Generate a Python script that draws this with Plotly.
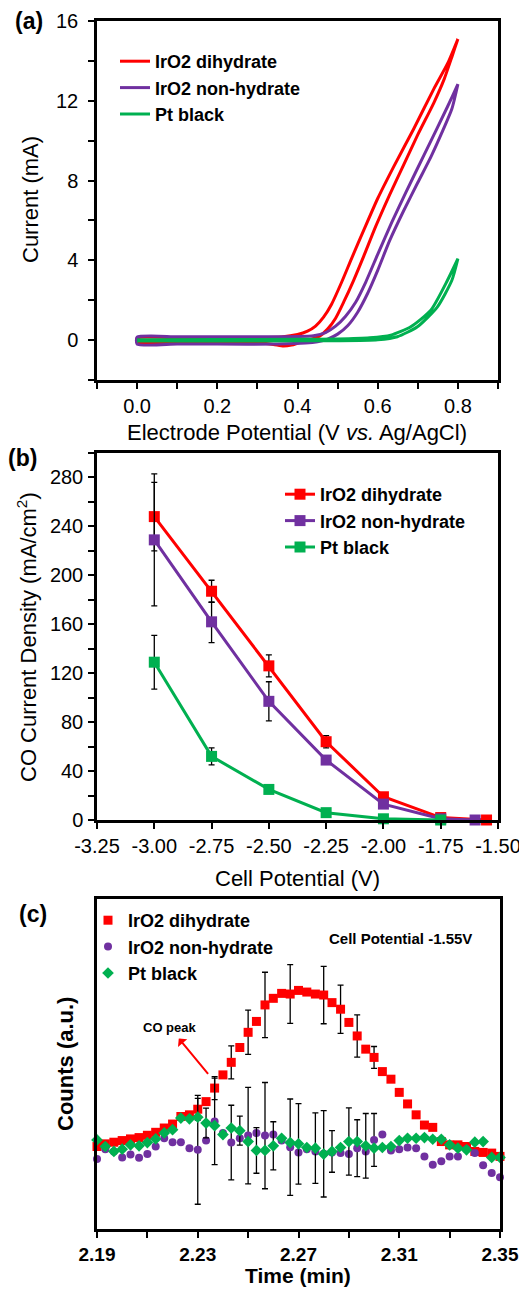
import plotly.graph_objects as go

FONT = "Liberation Sans, Arial, sans-serif"
RED, PURPLE, GREEN = "#FF0000", "#7030A0", "#00B050"

# ---------------- Panel (a): cyclic voltammograms ----------------
names = ["IrO2 dihydrate", "IrO2 non-hydrate", "Pt black"]

red_E_fwd = [0.00, 0.10, 0.20, 0.30, 0.36, 0.40, 0.425, 0.445, 0.465, 0.485, 0.51, 0.535, 0.565, 0.60, 0.64, 0.69, 0.74, 0.775, 0.80]
red_I_fwd = [0.10, 0.12, 0.12, 0.13, 0.16, 0.28, 0.45, 0.70, 1.15, 1.80, 2.90, 4.10, 5.50, 7.10, 8.70, 10.60, 12.60, 13.90, 15.10]
red_E_rev = [0.80, 0.785, 0.766, 0.74, 0.70, 0.665, 0.63, 0.595, 0.565, 0.54, 0.515, 0.495, 0.475, 0.455, 0.43, 0.405, 0.385, 0.365, 0.34, 0.30, 0.20, 0.10, 0.00, 0.00]
red_I_rev = [15.10, 14.20, 13.10, 11.90, 10.30, 8.80, 7.30, 5.70, 4.20, 3.00, 1.90, 1.10, 0.55, 0.20, 0.02, -0.12, -0.25, -0.30, -0.22, -0.13, -0.12, -0.12, -0.12, 0.10]

pur_E_fwd = [0.00, 0.10, 0.20, 0.30, 0.40, 0.44, 0.47, 0.495, 0.52, 0.545, 0.57, 0.60, 0.635, 0.67, 0.716, 0.774, 0.80]
pur_I_fwd = [0.15, 0.17, 0.17, 0.17, 0.18, 0.22, 0.38, 0.70, 1.20, 1.90, 2.90, 4.30, 5.90, 7.40, 9.30, 11.70, 12.83]
pur_E_rev = [0.80, 0.785, 0.76, 0.733, 0.70, 0.665, 0.63, 0.60, 0.575, 0.55, 0.525, 0.50, 0.475, 0.45, 0.42, 0.35, 0.20, 0.10, 0.00, 0.00]
pur_I_rev = [12.83, 11.60, 10.40, 9.20, 7.90, 6.50, 5.00, 3.50, 2.35, 1.40, 0.72, 0.30, 0.05, -0.08, -0.15, -0.20, -0.20, -0.20, -0.20, 0.15]

pt_E_fwd = [0.00, 0.20, 0.40, 0.50, 0.58, 0.6325, 0.6825, 0.7325, 0.774, 0.80]
pt_I_fwd = [0.02, 0.03, 0.04, 0.06, 0.12, 0.25, 0.67, 1.50, 3.00, 4.08]
pt_E_rev = [0.80, 0.785, 0.749, 0.699, 0.649, 0.60, 0.50, 0.30, 0.00]
pt_I_rev = [4.08, 3.00, 1.67, 0.67, 0.17, 0.02, -0.03, -0.04, -0.04]

# ---------------- Panel (b): CO current density ----------------
b_x_red = [-3.00, -2.75, -2.50, -2.25, -2.00, -1.75, -1.55]
b_y_red = [248, 187, 126, 64, 19, 2, 0]
b_ep_red = [35, 9, 9, 5, None, None, None]
b_em_red = [28, 9, 9, 5, None, None, None]
b_x_pur = [-3.00, -2.75, -2.50, -2.25, -2.00, -1.75, -1.60]
b_y_pur = [229, 162, 97, 49, 13, 1, 0]
b_ep_pur = [47, 16, 16, None, None, None, None]
b_em_pur = [54, 17, 16, None, None, None, None]
b_x_pt = [-3.00, -2.75, -2.50, -2.25, -2.00, -1.75]
b_y_pt = [129, 52, 25, 6, 1, 0]
b_e_pt = [22, 7, None, None, None, None]
b_tick_vals = [-3.25, -3.00, -2.75, -2.50, -2.25, -2.00, -1.75, -1.50]
b_tick_text = ["-3.25", "-3.00", "-2.75", "-2.50", "-2.25", "-2.00", "-1.75", "-1.50"]

# ---------------- Panel (c): GC counts vs time ----------------
c_time = [2.1900, 2.1933, 2.1967, 2.2000, 2.2033, 2.2067, 2.2100, 2.2133, 2.2167, 2.2200,
          2.2233, 2.2267, 2.2300, 2.2333, 2.2367, 2.2400, 2.2433, 2.2467, 2.2500, 2.2533,
          2.2567, 2.2600, 2.2633, 2.2667, 2.2700, 2.2733, 2.2767, 2.2800, 2.2833, 2.2867,
          2.2900, 2.2933, 2.2967, 2.3000, 2.3033, 2.3067, 2.3100, 2.3133, 2.3167, 2.3200,
          2.3233, 2.3267, 2.3300, 2.3333, 2.3367, 2.3400, 2.3433, 2.3467, 2.3500]
c_red = [25.0, 25.8, 26.3, 26.8, 27.3, 27.7, 28.4, 29.3, 30.6, 31.8,
         34.1, 34.6, 36.3, 38.6, 42.7, 46.7, 50.5, 55.0, 59.6, 62.9,
         67.9, 69.9, 71.4, 71.2, 72.3, 71.8, 71.2, 70.9, 68.6, 66.6,
         62.6, 58.5, 54.5, 52.0, 47.7, 45.4, 41.4, 37.9, 34.6, 31.5,
         30.8, 26.5, 25.5, 25.5, 25.0, 23.5, 23.2, 23.0, 22.0]
c_pur = [21.2, 24.2, 23.5, 21.7, 22.6, 21.6, 22.7, 25.0, 27.5, 26.3,
         26.3, 24.5, 24.0, 26.8, 32.6, 29.1, 26.2, 27.5, 28.3, 29.1,
         28.3, 28.6, 26.8, 24.8, 23.2, 24.2, 23.5, 22.8, 23.2, 23.0,
         22.7, 24.5, 23.5, 27.0, 28.6, 23.8, 24.2, 24.7, 24.5, 22.0,
         19.5, 20.5, 22.0, 22.0, 24.2, 23.0, 19.3, 17.0, 15.7]
c_pt = [27.0, 25.0, 23.5, 24.2, 25.5, 25.2, 26.2, 27.3, 29.1, 30.1,
        33.6, 33.4, 33.9, 32.1, 31.3, 28.6, 30.6, 29.8, 26.5, 23.8,
        23.8, 25.2, 27.5, 26.2, 25.8, 24.7, 24.5, 22.7, 23.5, 24.7,
        26.5, 26.5, 25.2, 24.5, 24.7, 25.0, 26.8, 27.5, 27.5, 27.7,
        27.2, 27.2, 25.5, 24.5, 24.0, 26.3, 26.5, 21.7, 21.7]
N = None
c_err_red = [N, N, N, N, N, N, N, N, N, N, N, N, 3.3, N, 3.5, N, 5.0, N, 6.7, N,
             9.9, N, N, 8.9, N, N, N, 8.7, N, 7.3, N, 6.4, N, 3.3, N, N, N, N, N, N,
             N, N, N, N, N, N, N, N, N]
c_err_pur = [N, N, N, N, N, N, N, N, N, N, N, N, 16.5, N, 13.1, N, 11.3, N, 14.6, N,
             16.1, N, N, 14.6, N, N, N, 13.1, N, N, N, 8.6, N, 8.0, N, N, N, N, N, N,
             N, N, N, N, N, N, N, N, N]
c_err_pt = [N, N, N, N, N, N, N, N, N, N, N, N, N, 4.5, N, N, N, 4.4, N, 6.9,
            N, 7.3, N, N, 12.2, N, 10.7, N, 6.3, N, 10.2, N, 9.8, N, N, N, N, N, N, N,
            N, N, N, N, N, N, N, N, N]

# page geometry: the HTML body has an 8px margin, so the figure is 8px smaller
OFF = 8
W, H = 527 - OFF, 1290 - OFF


def fx(px):
    return (px - OFF) / W


def fy(py):
    return 1 - (py - OFF) / H


fig = go.Figure()

# panel a traces
for E1, I1, E2, I2, col, nm in [
    (red_E_fwd, red_I_fwd, red_E_rev, red_I_rev, RED, names[0]),
    (pur_E_fwd, pur_I_fwd, pur_E_rev, pur_I_rev, PURPLE, names[1]),
    (pt_E_fwd, pt_I_fwd, pt_E_rev, pt_I_rev, GREEN, names[2]),
]:
    fig.add_trace(go.Scatter(x=E1 + E2, y=I1 + I2, mode="lines", name=nm,
                             line=dict(color=col, width=3, shape="spline", smoothing=0.6),
                             xaxis="x", yaxis="y", legend="legend"))

# panel b traces
for xs, ys, ep, em, col, nm in [
    (b_x_red, b_y_red, b_ep_red, b_em_red, RED, names[0]),
    (b_x_pur, b_y_pur, b_ep_pur, b_em_pur, PURPLE, names[1]),
    (b_x_pt, b_y_pt, b_e_pt, b_e_pt, GREEN, names[2]),
]:
    fig.add_trace(go.Scatter(x=xs, y=ys, mode="lines+markers", name=nm,
                             line=dict(color=col, width=3),
                             marker=dict(symbol="square", size=11, color=col),
                             error_y=dict(type="data", array=ep, arrayminus=em, symmetric=False,
                                          color="black", thickness=1.3, width=3),
                             cliponaxis=False, xaxis="x2", yaxis="y2", legend="legend2"))

# panel c traces
for ys, err, col, sym, sz, nm in [
    (c_red, c_err_red, RED, "square", 9, names[0]),
    (c_pur, c_err_pur, PURPLE, "circle", 8, names[1]),
    (c_pt, c_err_pt, GREEN, "diamond", 9, names[2]),
]:
    fig.add_trace(go.Scatter(x=c_time, y=ys, mode="markers", name=nm,
                             marker=dict(symbol=sym, size=sz, color=col),
                             error_y=dict(type="data", array=err, color="black", thickness=1.3, width=3),
                             cliponaxis=False, xaxis="x3", yaxis="y3", legend="legend3"))

axis_common = dict(showline=True, linecolor="black", linewidth=2.5, mirror=True, automargin=False,
                   showgrid=False, zeroline=False, ticks="outside", ticklen=6, tickwidth=2,
                   tickcolor="black", tickangle=0,
                   tickfont=dict(family=FONT, size=20, color="black"))
minor_common = dict(ticks="outside", ticklen=6, tickwidth=2, tickcolor="black")

XD_AB = [fx(97), fx(498)]
XD_C = [fx(97), fx(500)]

fig.update_layout(
    width=W, height=H, margin=dict(l=0, r=0, t=0, b=0, autoexpand=False),
    paper_bgcolor="white", plot_bgcolor="white",
    font=dict(family=FONT, color="black"),
    xaxis=dict(domain=XD_AB, range=[-0.1, 0.9], dtick=0.2, tick0=0, tickformat=".1f",
               minor=dict(dtick=0.1, tick0=0, **minor_common),
               anchor="y", **axis_common),
    yaxis=dict(domain=[fy(380), fy(21)], range=[-2, 16], dtick=4, tick0=0,
               minor=dict(dtick=2, tick0=0, **minor_common),
               ticklabelstandoff=6, anchor="x", **axis_common),
    xaxis2=dict(domain=XD_AB, range=[-3.25, -1.5], tickvals=b_tick_vals, ticktext=b_tick_text,
                anchor="y2", **axis_common),
    yaxis2=dict(domain=[fy(820), fy(453)], range=[0, 300], dtick=40, tick0=0,
                minor=dict(dtick=20, tick0=0, **minor_common),
                ticklabelstandoff=1, anchor="x2", **axis_common),
    xaxis3=dict(domain=XD_C, range=[2.19, 2.35], dtick=0.04, tick0=2.19, tickformat=".2f",
                minor=dict(dtick=0.02, tick0=2.19, **minor_common),
                anchor="y3", **{**axis_common, "tickfont": dict(family=FONT, size=19, color="black", weight="bold")}),
    yaxis3=dict(domain=[fy(1229), fy(899)], range=[0, 100], showticklabels=False,
                anchor="x3", **{**axis_common, "ticks": ""}),
    legend=dict(x=fx(115), y=fy(43), xanchor="left", yanchor="top", bgcolor="rgba(0,0,0,0)",
                font=dict(family=FONT, size=18, color="black", weight="bold"), tracegroupgap=0),
    legend2=dict(x=fx(280), y=fy(476), xanchor="left", yanchor="top", bgcolor="rgba(0,0,0,0)",
                 font=dict(family=FONT, size=18, color="black", weight="bold"), tracegroupgap=0),
    legend3=dict(x=fx(88), y=fy(902), xanchor="left", yanchor="top", bgcolor="rgba(0,0,0,0)",
                 font=dict(family=FONT, size=18, color="black", weight="bold"), tracegroupgap=0),
)


def txt(x, y, s, size, bold=False, angle=0):
    fig.add_annotation(x=fx(x), y=fy(y), xref="paper", yref="paper", text=s,
                       showarrow=False, textangle=angle, xanchor="center", yanchor="middle",
                       font=dict(family=FONT, size=size, color="black",
                                 weight="bold" if bold else "normal"))


# panel labels
txt(29, 21, "(a)", 23, bold=True)
txt(22, 458, "(b)", 23, bold=True)
txt(33, 914, "(c)", 23, bold=True)
# axis titles
txt(30, 200, "Current (mA)", 22, angle=-90)
txt(297, 432, "Electrode Potential (V <i>vs.</i> Ag/AgCl)", 22)
txt(27, 637, "CO Current Density (mA/cm<sup>2</sup>)", 22, angle=-90)
txt(297, 878, "Cell Potential (V)", 22)
txt(65, 1064, "Counts (a.u.)", 22, bold=True, angle=-90)
txt(298, 1275, "Time (min)", 21, bold=True)
# panel c notes
txt(400, 938, "Cell Potential -1.55V", 15, bold=True)
fig.add_annotation(x=2.2341, y=47.0, xref="x3", yref="y3", ax=-38, ay=-46, text="CO peak",
                   font=dict(family=FONT, size=13, color="black", weight="bold"),
                   showarrow=True, arrowside="start", arrowhead=2, arrowsize=1, arrowwidth=2,
                   arrowcolor=RED, startstandoff=2)

fig.write_html("out.html")
